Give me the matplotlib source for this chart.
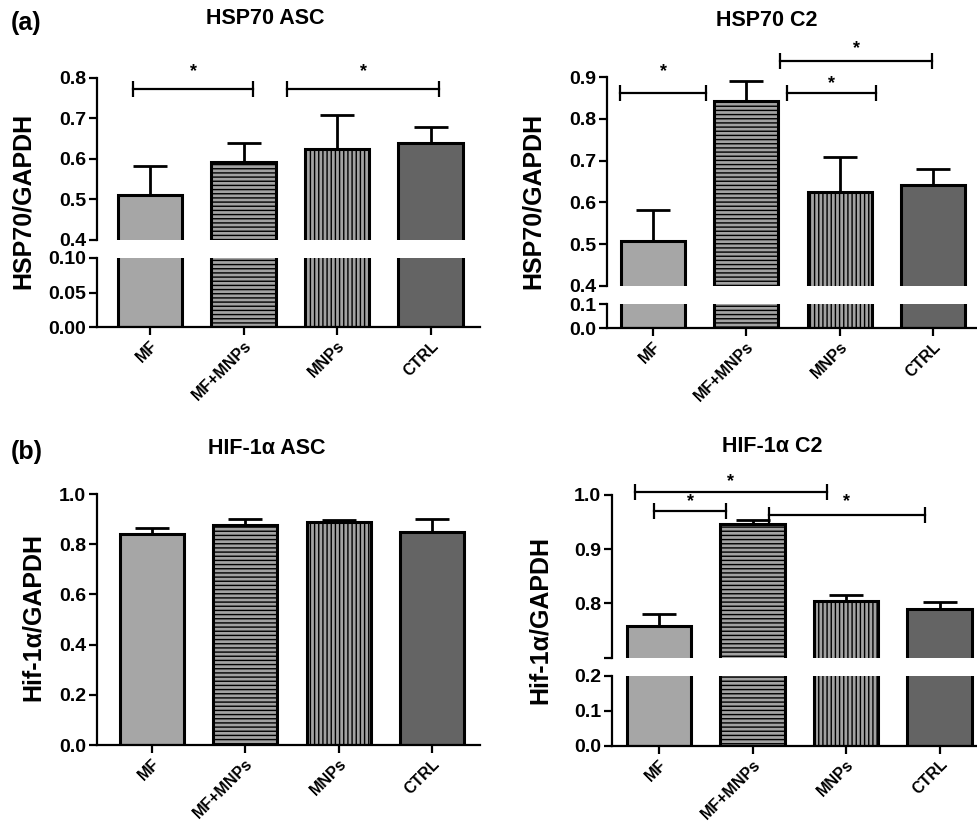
import matplotlib
matplotlib.use('Agg')
import matplotlib.pyplot as plt
import numpy as np

plt.rcParams['font.family'] = ['Liberation Sans', 'DejaVu Sans']
plt.rcParams['font.weight'] = 'bold'
plt.rcParams['hatch.linewidth'] = 1.0
plt.rcParams['hatch.color'] = '#333333'

groups = ['MF', 'MF+MNPs', 'MNPs', 'CTRL']

hsp70_asc_mean = [0.510, 0.592, 0.624, 0.640]
hsp70_asc_err = [0.073, 0.048, 0.084, 0.039]
hsp70_c2_mean = [0.508, 0.843, 0.625, 0.641]
hsp70_c2_err = [0.074, 0.049, 0.084, 0.038]
hif_asc_mean = [0.839, 0.876, 0.887, 0.847]
hif_asc_err = [0.024, 0.024, 0.009, 0.052]
hif_c2_mean = [0.759, 0.947, 0.804, 0.789]
hif_c2_err = [0.021, 0.007, 0.012, 0.014]

# significance brackets: (x start, x end, line y, star y)
hsp70_asc_sig = [(-0.18, 1.10, 0.772, 0.815), (1.47, 3.09, 0.772, 0.815)]
hsp70_c2_sig = [(-0.35, 0.575, 0.863, 0.913), (1.44, 2.385, 0.863, 0.884),
                (1.36, 2.99, 0.939, 0.968)]
hif_c2_sig = [(-0.26, 1.795, 1.006, 1.025), (-0.05, 0.72, 0.971, 0.987),
              (1.18, 2.84, 0.963, 0.987)]

face = ['#a6a6a6', '#a2a2a2', '#a2a2a2', '#646464']
hatches = [None, '----', '||||', None]

W, H = 977, 823
fig = plt.figure(figsize=(W / 100, H / 100), dpi=100)


def px_rect(x0, x1, ytop, ybot):
    return [x0 / W, 1 - ybot / H, (x1 - x0) / W, (ybot - ytop) / H]


def style(ax, show_x):
    ax.spines['top'].set_visible(False)
    ax.spines['right'].set_visible(False)
    for s in ['left', 'bottom']:
        ax.spines[s].set_linewidth(1.6)
    ax.tick_params(axis='y', direction='out', length=6, width=1.6, labelsize=14, pad=2)
    if show_x:
        ax.tick_params(axis='x', direction='out', length=6, width=1.6, labelsize=11.5, pad=2)
        ax.set_xticks(range(len(groups)))
        ax.set_xticklabels(groups, rotation=45, ha='right', rotation_mode='anchor')
    else:
        ax.spines['bottom'].set_visible(False)
        ax.set_xticks([])


def bars(ax, means, errs=None):
    x = np.arange(len(groups))
    for i in range(len(groups)):
        ax.bar(x[i], means[i], width=0.685, color=face[i], edgecolor='black',
               linewidth=2.2, hatch=hatches[i], zorder=2)
    if errs is not None:
        ax.errorbar(x, means, yerr=[np.zeros(len(errs)), errs], fmt='none', ecolor='black',
                    elinewidth=2, capsize=12, capthick=2, zorder=1, clip_on=False)


def brackets(ax, sig):
    for x1, x2, y, ys in sig:
        ax.plot([x1, x2], [y, y], color='black', lw=1.6, marker='|', markersize=11,
                markeredgewidth=1.6, clip_on=False, zorder=3)
        ax.text((x1 + x2) / 2, ys, '*', ha='center', va='center', fontsize=13, clip_on=False)


def panel(x0, x1, tick0, upper, lower, means, errs, sig, up_ticks, up_labels,
          lo_ticks, lo_labels):
    left = (x0 - tick0) / 93.5
    right = (x1 - tick0) / 93.5
    ytop, ybot, ymin, ymax = upper
    ax_u = fig.add_axes(px_rect(x0, x1, ytop, ybot))
    bars(ax_u, means, errs)
    ax_u.set_xlim(left, right)
    ax_u.set_ylim(ymin, ymax)
    ax_u.set_yticks(up_ticks)
    ax_u.set_yticklabels(up_labels)
    style(ax_u, lower is None)
    if sig:
        brackets(ax_u, sig)
    if lower is not None:
        ytop, ybot, ymin, ymax = lower
        ax_l = fig.add_axes(px_rect(x0, x1, ytop, ybot))
        bars(ax_l, means)
        ax_l.set_xlim(left, right)
        ax_l.set_ylim(ymin, ymax)
        ax_l.set_yticks(lo_ticks)
        ax_l.set_yticklabels(lo_labels)
        style(ax_l, True)


# (a) HSP70 ASC
panel(97, 480, 150, (77.7, 240, 0.4, 0.8), (258, 327, 0.0, 0.10),
      hsp70_asc_mean, hsp70_asc_err, hsp70_asc_sig,
      [0.4, 0.5, 0.6, 0.7, 0.8], ['0.4', '0.5', '0.6', '0.7', '0.8'],
      [0.0, 0.05, 0.10], ['0.00', '0.05', '0.10'])
# HSP70 C2
panel(607, 977, 652.7, (77.3, 285.7, 0.4, 0.9), (304.3, 328.3, 0.0, 0.1),
      hsp70_c2_mean, hsp70_c2_err, hsp70_c2_sig,
      [0.4, 0.5, 0.6, 0.7, 0.8, 0.9], ['0.4', '0.5', '0.6', '0.7', '0.8', '0.9'],
      [0.0, 0.1], ['0.0', '0.1'])
# (b) HIF-1a ASC
panel(97, 480, 151.7, (494, 745, 0.0, 1.0), None,
      hif_asc_mean, hif_asc_err, None,
      [0.0, 0.2, 0.4, 0.6, 0.8, 1.0], ['0.0', '0.2', '0.4', '0.6', '0.8', '1.0'],
      None, None)
# HIF-1a C2
panel(612, 977, 659, (495, 657.7, 0.70, 1.0), (676, 745.7, 0.0, 0.2),
      hif_c2_mean, hif_c2_err, hif_c2_sig,
      [0.7, 0.8, 0.9, 1.0], ['', '0.8', '0.9', '1.0'],
      [0.0, 0.1, 0.2], ['0.0', '0.1', '0.2'])

# titles and labels
fig.text(265 / W, 1 - 18 / H, 'HSP70 ASC', ha='center', va='center', fontsize=15.5)
fig.text(767 / W, 1 - 21 / H, 'HSP70 C2', ha='center', va='center', fontsize=15.5)
fig.text(267 / W, 1 - 448 / H, 'HIF-1\u03b1 ASC', ha='center', va='center', fontsize=15.5)
fig.text(772 / W, 1 - 447 / H, 'HIF-1\u03b1 C2', ha='center', va='center', fontsize=15.5)
fig.text(11 / W, 1 - 23 / H, '(a)', ha='left', va='center', fontsize=18)
fig.text(11 / W, 1 - 452 / H, '(b)', ha='left', va='center', fontsize=18)

fig.text(23 / W, 1 - 201 / H, 'HSP70/GAPDH', rotation=90, ha='center', va='center', fontsize=18)
fig.text(533 / W, 1 - 201 / H, 'HSP70/GAPDH', rotation=90, ha='center', va='center', fontsize=18)
fig.text(33 / W, 1 - 617 / H, 'Hif-1\u03b1/GAPDH', rotation=90, ha='center', va='center', fontsize=18)
fig.text(540 / W, 1 - 620 / H, 'Hif-1\u03b1/GAPDH', rotation=90, ha='center', va='center', fontsize=18)

plt.savefig('out.png', dpi=100)
